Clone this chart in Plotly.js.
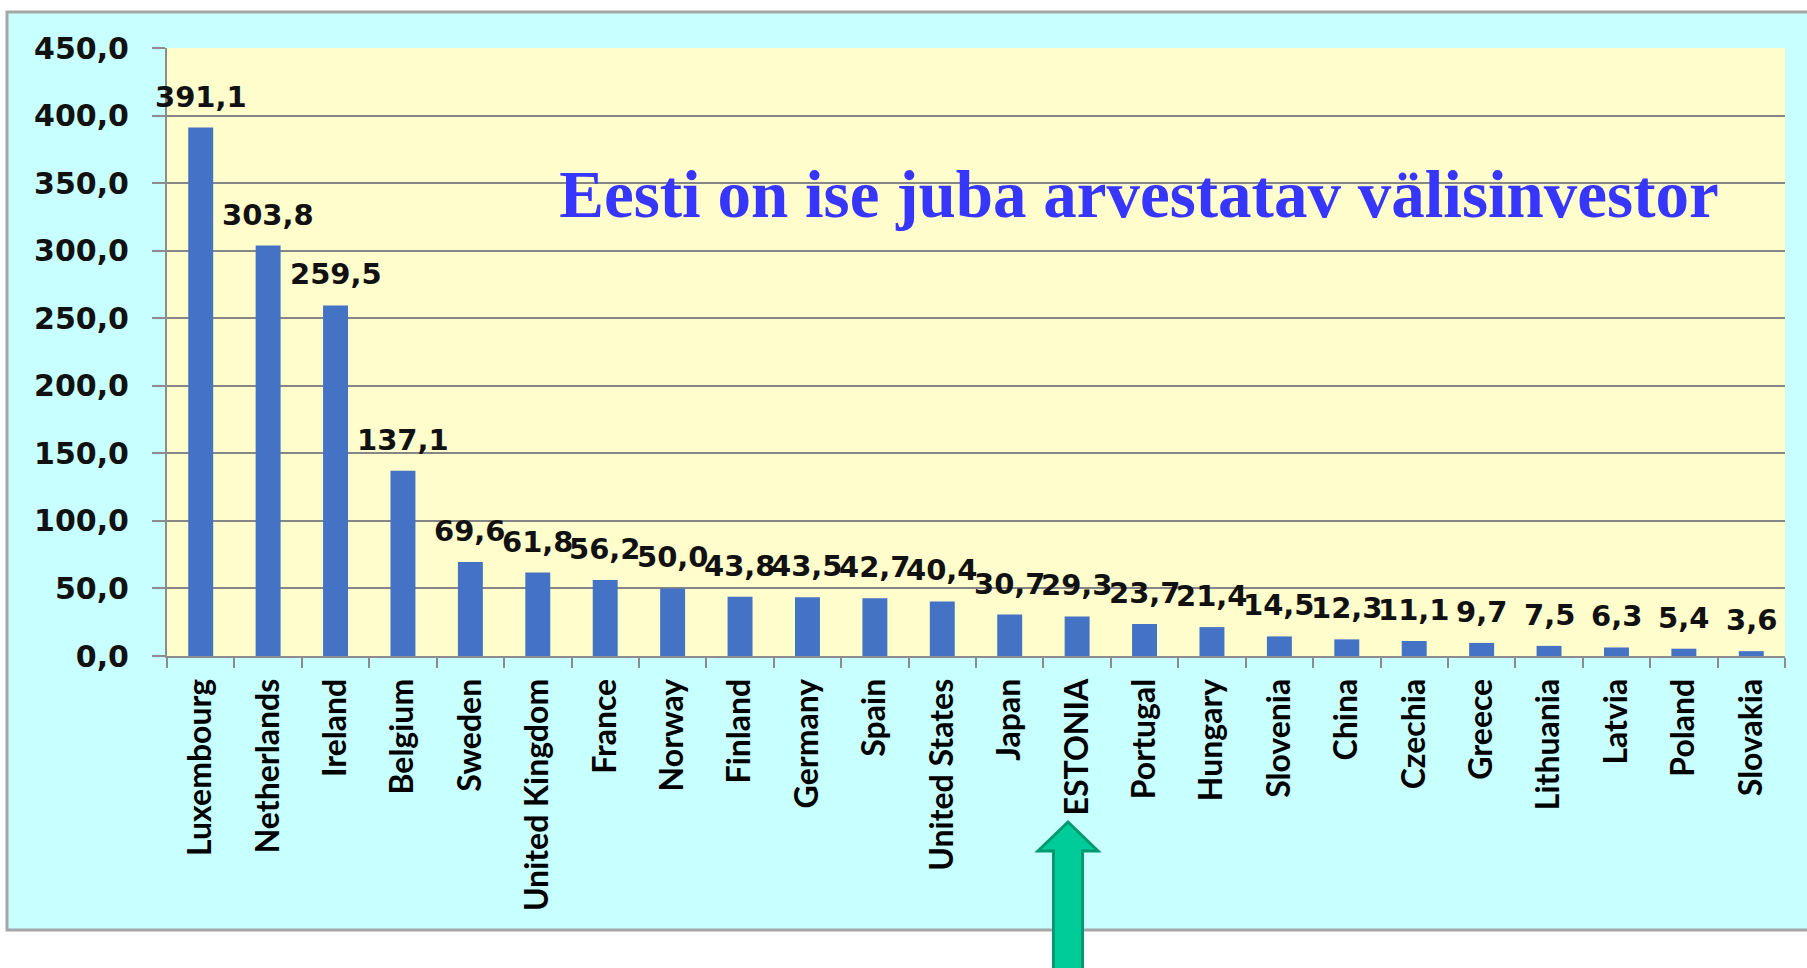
<!DOCTYPE html>
<html>
<head>
<meta charset="utf-8">
<script src="https://cdn.plot.ly/plotly-3.0.1.min.js"></script>
<style>html,body{margin:0;padding:0;background:#fff;}#chart{width:1807px;height:968px;}</style>
</head>
<body>
<div id="chart"></div>
<script>
const countries = ["Luxembourg","Netherlands","Ireland","Belgium","Sweden","United Kingdom","France","Norway","Finland","Germany","Spain","United States","Japan","ESTONIA","Portugal","Hungary","Slovenia","China","Czechia","Greece","Lithuania","Latvia","Poland","Slovakia"];
const values = [391.1,303.8,259.5,137.1,69.6,61.8,56.2,50.0,43.8,43.5,42.7,40.4,30.7,29.3,23.7,21.4,14.5,12.3,11.1,9.7,7.5,6.3,5.4,3.6];
const titleText = "Eesti on ise juba arvestatav välisinvestor";

const numFont = {family:"DejaVu Sans", size:29, color:"#111", weight:"bold"};
const tickNumFont = {family:"DejaVu Sans", size:30, color:"#111", weight:"bold"};
const labels = values.map(v => v.toFixed(1).replace('.', ','));

const annotations = countries.map((c,i) => ({
  x: c, y: values[i], xref:'x', yref:'y', text: labels[i], showarrow:false,
  xanchor:'center', yanchor:'bottom', yshift: 12, font: numFont
}));

const L = 167, R = 22, T = 48, B = 312, W = 1807, H = 968;
const pw = W - L - R, ph = H - T - B;
const px = x => (x - L) / pw;
const py = y => (H - B - y) / ph;

const trace = {
  type:'bar', x: countries, y: values,
  marker:{color:'#4472C4'}, hoverinfo:'x+y'
};

const layout = {
  width: W, height: H,
  margin:{l:L, r:R, t:T, b:B, pad:0},
  paper_bgcolor:'#ffffff', plot_bgcolor:'#FFFDCC',
  separators:', ',
  bargap:0.63,
  showlegend:false,
  title:{text:titleText, xref:'paper', yref:'paper', x:px(1139), y:py(194), xanchor:'center', yanchor:'middle',
         font:{family:"Liberation Serif", size:67, color:'#3636FF', weight:'bold'}},
  xaxis:{type:'category', range:[-0.5, 23.5], autorange:false, showgrid:false, showline:true, linecolor:'#8c8c8c', linewidth:2,
         ticks:'outside', tickson:'boundaries', ticklen:10, tickcolor:'#8c8c8c', tickwidth:2,
         tickangle:-90, tickfont:{family:"Lato", size:32, color:'#000', weight:'bold'}, ticklabelstandoff:8},
  yaxis:{range:[0,450], dtick:50, tickformat:'.1f', showgrid:true, gridcolor:'#868686', gridwidth:2,
         showline:true, linecolor:'#8c8c8c', linewidth:2, ticks:'outside', ticklen:13, tickcolor:'#8c8c8c', tickwidth:2,
         zeroline:false, tickfont:tickNumFont, ticklabelstandoff:17},
  annotations: annotations,
  shapes:[
    {type:'rect', xref:'paper', yref:'paper', layer:'below', x0:px(7), x1:px(1830), y0:py(930), y1:py(12),
     fillcolor:'#C8FFFF', line:{color:'#a6a6a6', width:3}},
    {type:'rect', xref:'paper', yref:'paper', layer:'below', x0:0, x1:1, y0:0, y1:1,
     fillcolor:'#FFFDCC', line:{width:0}},
    {type:'path', xref:'paper', yref:'paper', layer:'above', xsizemode:'pixel', ysizemode:'pixel',
     xanchor:px(1068), yanchor:py(656),
     path:'M -14.5,-330 L -14.5,-195 L -30,-195 L 0,-166 L 30,-195 L 14.5,-195 L 14.5,-330 Z',
     fillcolor:'#00CC99', line:{color:'#009970', width:3}}
  ]
};

Plotly.newPlot('chart', [trace], layout, {staticPlot:true});
</script>
</body>
</html>
